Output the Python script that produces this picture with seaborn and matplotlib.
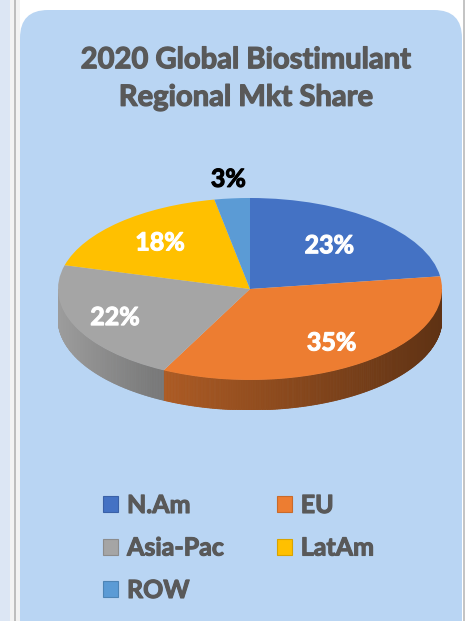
import numpy as np
import matplotlib
matplotlib.use("Agg")
import matplotlib.pyplot as plt
import matplotlib.patheffects as pe
import seaborn as sns
from matplotlib.patches import FancyBboxPatch, Rectangle, Polygon, Patch
from matplotlib import colors as mcolors

# dados
regioes = ["N.Am", "EU", "Asia-Pac", "LatAm", "ROW"]
share = [23, 35, 22, 18, 3]
cores = ["#4472C4", "#ED7D31", "#A5A5A5", "#FFC000", "#5B9BD5"]
titulo = "2020 Global Biostimulant\nRegional Mkt Share"

# distancia radial de cada rotulo (estilo, tipo "best fit" do Excel)
dist_rotulo = [0.63, 0.73, 0.77, 0.69, 1.21]

sns.set_theme(style="white")
plt.rcParams["font.family"] = ["Lato", "DejaVu Sans"]

W, H = 466, 621
cinza_txt = "#595959"

def negrito(cor, lw=0.9):
    return [pe.withStroke(linewidth=lw, foreground=cor)]

fig = plt.figure(figsize=(W / 100, H / 100), dpi=100)
fig.patch.set_facecolor("white")

# fundo em coordenadas de pixel
ax_bg = fig.add_axes([0, 0, 1, 1])
ax_bg.set_xlim(0, W)
ax_bg.set_ylim(H, 0)
ax_bg.axis("off")
ax_bg.add_patch(Rectangle((0, 0), 10, H, fc="#DCE6F4", ec="none"))
ax_bg.add_patch(Rectangle((10, 0), 10, H, fc="#F2F2F2", ec="none"))
ax_bg.add_patch(Rectangle((14, 0), 2, H, fc="#BDBDBD", ec="none"))
ax_bg.add_patch(Rectangle((463, 0), 2, H, fc="#C4C4C4", ec="none"))
ax_bg.add_patch(FancyBboxPatch((20, 10), 442, 640, boxstyle="round,pad=0,rounding_size=28",
                               fc="#B9D5F3", ec="none"))

ax_bg.text(246, 79, titulo, ha="center", va="center", fontsize=21, fontweight="bold",
           color=cinza_txt, linespacing=1.55, path_effects=negrito(cinza_txt))

# pizza 3D: elipse no topo + lateral sombreada
cx, cy, a, b, prof = 250, 289, 192, 91, 30
d = prof / b
ax = fig.add_axes([(cx - a) / W, 1 - (cy + b + prof) / H, 2 * a / W, (2 * b + prof) / H])

wedges, textos, autotextos = ax.pie(share, colors=cores, startangle=90, counterclock=False,
                                    autopct="%.0f%%", pctdistance=0.7,
                                    wedgeprops=dict(linewidth=0),
                                    textprops=dict(color="white", fontsize=18, fontweight="bold"))
ax.set_aspect("auto")
ax.set_xlim(-1, 1)
ax.set_ylim(-1 - d, 1)
ax.axis("off")

def sombra(x):
    return np.interp(x, [-1, -0.5, 1], [0.95, 0.74, 0.40])

frac = np.cumsum([0] + share) / np.sum(share)
for i, cor in enumerate(cores):
    t_ini = 90 - 360 * frac[i]
    t_fim = 90 - 360 * frac[i + 1]
    lo, hi = max(t_fim, -180), min(t_ini, 0)
    if lo >= hi:
        continue
    base = np.array(mcolors.to_rgb(cor))
    angs = np.linspace(lo, hi, int((hi - lo) * 2) + 2)
    for t1, t2 in zip(angs[:-1], angs[1:]):
        r1, r2 = np.radians(t1), np.radians(t2)
        xs = [np.cos(r1), np.cos(r2), np.cos(r2), np.cos(r1)]
        ys = [np.sin(r1), np.sin(r2), np.sin(r2) - d, np.sin(r1) - d]
        c = base * sombra((xs[0] + xs[1]) / 2)
        ax.add_patch(Polygon(list(zip(xs, ys)), closed=True, fc=c, ec=c, lw=0.6, zorder=0))

# reposiciona rotulos; o do ROW fica fora, em preto
for w, txt, r in zip(wedges, autotextos, dist_rotulo):
    meio = np.radians((w.theta1 + w.theta2) / 2)
    txt.set_position((r * np.cos(meio), r * np.sin(meio)))
    txt.set_path_effects(negrito("white", 0.8))
autotextos[-1].set_color("black")
autotextos[-1].set_path_effects(negrito("black", 0.8))

# legenda em 3 linhas (ordem por colunas)
ordem = [0, 2, 4, 1, 3]
handles = [Patch(fc=cores[k], ec=mcolors.to_hex(np.array(mcolors.to_rgb(cores[k])) * 0.85), lw=0.8)
           for k in ordem]
leg = fig.legend(handles, [regioes[k] for k in ordem], ncol=2, loc="upper left",
                 bbox_to_anchor=(103 / W, 1 - 494 / H), frameon=False, borderpad=0,
                 borderaxespad=0, handlelength=0.6, handleheight=0.6, handletextpad=0.36,
                 columnspacing=2.1, labelspacing=0.78,
                 prop=dict(family=["Lato", "DejaVu Sans"], weight="bold", size=18))
for t in leg.get_texts():
    t.set_color(cinza_txt)
    t.set_path_effects(negrito(cinza_txt, 0.8))

fig.savefig("out.png", dpi=100)
